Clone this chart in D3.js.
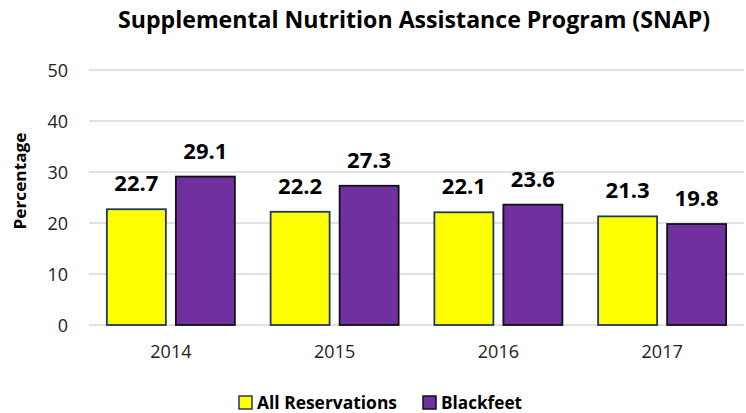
<!DOCTYPE html>
<html>
<head>
<meta charset="utf-8">
<script src="https://cdn.jsdelivr.net/npm/d3@7"></script>
<style>
  html, body { margin: 0; padding: 0; background: #fff; }
  svg { display: block; font-family: "Open Sans", "Liberation Sans", sans-serif; }
</style>
</head>
<body>
<svg id="chart" width="746" height="413"></svg>
<script>
const years = ["2014", "2015", "2016", "2017"];
const seriesNames = ["All Reservations", "Blackfeet"];
const allReservations = [22.7, 22.2, 22.1, 21.3];
const blackfeet = [29.1, 27.3, 23.6, 19.8];
const yTicks = [0, 10, 20, 30, 40, 50];
const titleText = "Supplemental Nutrition Assistance Program (SNAP)";
const yLabel = "Percentage";

const fills = ["#FFFF00", "#7030A0"];
const strokes = ["#1F3864", "#111111"];
const seriesValues = [allReservations, blackfeet];

const svg = d3.select("#chart");
const plotLeft = 89, plotRight = 744, plotTop = 70, plotBottom = 325;

const x = d3.scaleBand().domain(years).range([plotLeft, plotRight]).padding(0);
const xs = d3.scaleBand().domain(seriesNames).range([0, x.bandwidth()])
  .paddingInner(0.145).paddingOuter(0.259);
const y = d3.scaleLinear().domain([0, 50]).range([plotBottom, plotTop]);

// gridlines
svg.append("g").selectAll("line").data(yTicks).join("line")
  .attr("x1", plotLeft).attr("x2", plotRight)
  .attr("y1", d => y(d)).attr("y2", d => y(d))
  .attr("stroke", "#d9d9d9").attr("stroke-width", 1.5);

// y axis tick labels
const yAxis = d3.axisLeft(y).tickValues(yTicks).tickSize(0).tickPadding(0);
const yg = svg.append("g").attr("transform", `translate(${plotLeft - 21},0)`).call(yAxis);
yg.select(".domain").remove();
yg.selectAll("text").attr("font-size", 18).attr("fill", "#222")
  .attr("font-family", "'Open Sans', sans-serif").attr("dy", "0.36em");

// x axis labels
const xAxis = d3.axisBottom(x).tickSize(0).tickPadding(0);
const xg = svg.append("g").attr("transform", `translate(0,${plotBottom + 17})`).call(xAxis);
xg.select(".domain").remove();
xg.selectAll("text").attr("font-size", 18).attr("fill", "#222")
  .attr("font-family", "'Open Sans', sans-serif").attr("dy", "0.9em");

// bars
const data = [];
years.forEach((yr, i) => seriesNames.forEach((s, j) => data.push({ yr, s, j, v: seriesValues[j][i] })));

svg.append("g").selectAll("rect").data(data).join("rect")
  .attr("x", d => x(d.yr) + xs(d.s))
  .attr("y", d => y(d.v))
  .attr("width", xs.bandwidth())
  .attr("height", d => y(0) - y(d.v))
  .attr("fill", d => fills[d.j])
  .attr("stroke", d => strokes[d.j])
  .attr("stroke-width", 1.8);

// value labels
svg.append("g").selectAll("text").data(data).join("text")
  .attr("x", d => x(d.yr) + xs(d.s) + xs.bandwidth() / 2)
  .attr("y", d => y(d.v) - 18)
  .attr("text-anchor", "middle")
  .attr("font-size", 22).attr("font-weight", "bold").attr("fill", "#000")
  .text(d => d.v.toFixed(1));

// title
svg.append("text").attr("x", 414).attr("y", 28).attr("text-anchor", "middle")
  .attr("font-size", 24).attr("font-weight", "bold").attr("fill", "#000")
  .attr("textLength", 592).attr("lengthAdjust", "spacingAndGlyphs")
  .text(titleText);

// y label
svg.append("text").attr("transform", "translate(26,181) rotate(-90)")
  .attr("text-anchor", "middle").attr("font-size", 16).attr("font-weight", "bold")
  .attr("fill", "#000")
  .attr("textLength", 97).attr("lengthAdjust", "spacingAndGlyphs")
  .text(yLabel);

// legend
const legendX = [239, 423];
const legendW = [140, 81];
const lg = svg.append("g");
seriesNames.forEach((s, j) => {
  lg.append("rect").attr("x", legendX[j]).attr("y", 396).attr("width", 13).attr("height", 13)
    .attr("fill", fills[j]).attr("stroke", strokes[j]).attr("stroke-width", 1.5);
  lg.append("text").attr("x", legendX[j] + 18).attr("y", 408.5)
    .attr("font-size", 17).attr("font-weight", "bold").attr("fill", "#000")
    .attr("textLength", legendW[j]).attr("lengthAdjust", "spacingAndGlyphs")
    .text(s);
});
</script>
</body>
</html>
